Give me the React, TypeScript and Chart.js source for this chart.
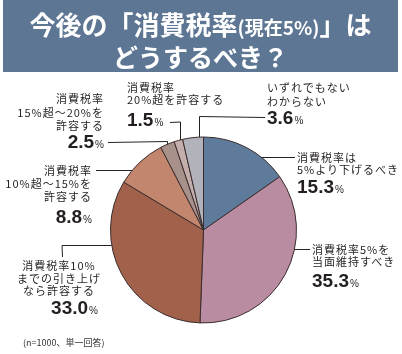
import React, { useEffect, useRef } from "react";
import { Chart, registerables } from "chart.js";

Chart.register(...registerables);

const categories = [
  "消費税率は5%より下げるべき",
  "消費税率5%を当面維持すべき",
  "消費税率10%までの引き上げなら許容する",
  "消費税率10%超～15%を許容する",
  "消費税率15%超～20%を許容する",
  "消費税率20%超を許容する",
  "いずれでもない わからない",
];
const values = [15.3, 35.3, 33.0, 8.8, 2.5, 1.5, 3.6];
const colors = ["#5f7b9b", "#b98ca2", "#a2614b", "#c2866e", "#a8918a", "#c4aeab", "#b2b3ba"];
const labelLines = [
  ["消費税率は", "5%より下げるべき"],
  ["消費税率5%を", "当面維持すべき"],
  ["消費税率10%", "までの引き上げ", "なら許容する"],
  ["消費税率", "10%超～15%を", "許容する"],
  ["消費税率", "15%超～20%を", "許容する"],
  ["消費税率", "20%超を許容する"],
  ["いずれでもない", "わからない"],
];
const titleMain1 = "今後の「消費税率";
const titleSmall = "(現在5%)";
const titleMain2 = "」は";
const titleLine2 = "どうするべき？";
const footnote = "(n=1000、単一回答)";

// layout of label blocks (positions only)
type Block = { x: number; align: "left" | "right" | "center"; ys: number[]; numY: number; numX?: number; numAlign?: "left" | "right" };
const blocks: Block[] = [
  { x: 297, align: "left", ys: [157, 169], numY: 187 },
  { x: 312, align: "left", ys: [249, 261], numY: 281 },
  { x: 59, align: "center", ys: [265, 278, 290], numY: 308, numX: 98, numAlign: "right" },
  { x: 92, align: "right", ys: [170, 183, 196], numY: 216.5 },
  { x: 104, align: "right", ys: [98, 111.5, 125], numY: 142 },
  { x: 127, align: "left", ys: [87, 99], numY: 120 },
  { x: 267, align: "left", ys: [87, 100.5], numY: 117.5 },
];

// leader lines: fraction within slice, then path segments
type Seg = { h?: number; v?: number };
const leaders: { frac: number; segs: Seg[] }[] = [
  { frac: 0.7, segs: [{ h: 295 }] },
  { frac: 0.367, segs: [{ h: 310 }] },
  { frac: 0.661, segs: [{ h: 62 }, { v: 257 }] },
  { frac: 0.28, segs: [{ h: 96 }] },
  { frac: 0.46, segs: [{ v: 141.5 }, { h: 108 }] },
  { frac: 0.68, segs: [{ v: 122 }, { h: 170 }] },
  { frac: 0.8, segs: [{ v: 116.5 }, { h: 265 }] },
];

const leaderPlugin = {
  id: "leaders",
  afterDatasetsDraw(chart: any) {
    const meta = chart.getDatasetMeta(0);
    const ctx = chart.ctx;
    ctx.save();
    ctx.strokeStyle = "#222";
    ctx.lineWidth = 1;
    meta.data.forEach((arc: any, i: number) => {
      const L = leaders[i];
      if (!L) return;
      const a = arc.startAngle + L.frac * (arc.endAngle - arc.startAngle);
      let px = arc.x + Math.cos(a) * arc.outerRadius;
      let py = arc.y + Math.sin(a) * arc.outerRadius;
      ctx.beginPath();
      L.segs.forEach((s, k) => {
        if (s.h !== undefined) {
          py = Math.round(py) + 0.5;
          if (k === 0) ctx.moveTo(px, py);
          px = s.h;
        } else if (s.v !== undefined) {
          px = Math.round(px) + 0.5;
          if (k === 0) ctx.moveTo(px, py);
          py = s.v;
        }
        ctx.lineTo(px, py);
      });
      ctx.stroke();
    });
    ctx.restore();
  },
};

const labelFont = '"Noto Sans CJK JP", "Noto Sans", sans-serif';
const numFont = '"Liberation Sans", Arial, sans-serif';

export default function App() {
  const ref = useRef<HTMLCanvasElement>(null);
  useEffect(() => {
    if (!ref.current) return;
    const chart = new Chart(ref.current, {
      type: "pie",
      data: {
        labels: categories,
        datasets: [
          {
            data: values,
            backgroundColor: colors,
            borderColor: "#3a2c2c",
            borderWidth: 1,
          },
        ],
      },
      options: {
        animation: false,
        responsive: false,
        maintainAspectRatio: false,
        layout: { padding: { left: 110, right: 105, top: 136, bottom: 30 } },
        plugins: { legend: { display: false }, tooltip: { enabled: false } },
      },
      plugins: [leaderPlugin],
    });
    return () => chart.destroy();
  }, []);

  const textColor = "#231f20";

  return (
    <div style={{ position: "absolute", left: 0, top: 0, width: 402, height: 354, background: "#fff", overflow: "hidden" }}>
      <canvas ref={ref} width={402} height={354} style={{ position: "absolute", left: 0, top: 0, width: 402, height: 354 }} />
      <div style={{ position: "absolute", left: 3, top: 0, width: 395, height: 72, background: "#5d7694", color: "#fff", fontFamily: labelFont, fontWeight: 700 }}>
        <div style={{ position: "absolute", left: 0, width: 395, top: 8, lineHeight: "32px", textAlign: "center", fontSize: 26, whiteSpace: "nowrap" }}>
          {titleMain1}
          <span style={{ fontSize: 19 }}>{titleSmall}</span>
          {titleMain2}
        </div>
        <div style={{ position: "absolute", left: 0, width: 395, top: 40, lineHeight: "32px", textAlign: "center", fontSize: 25, whiteSpace: "nowrap" }}>
          {titleLine2}
        </div>
      </div>
      {blocks.map((b, i) => {
        const lines = labelLines[i];
        const pos = (align: string, x: number): React.CSSProperties =>
          align === "left"
            ? { left: x, textAlign: "left" }
            : align === "right"
            ? { right: 402 - x, textAlign: "right" }
            : { left: x - 60, width: 120, textAlign: "center" };
        const nAlign = b.numAlign || (b.align === "center" ? "right" : b.align);
        const nX = b.numX !== undefined ? b.numX : b.x;
        return (
          <React.Fragment key={i}>
            {lines.map((t, k) => (
              <div
                key={k}
                style={{
                  position: "absolute",
                  top: b.ys[k] - 7,
                  lineHeight: "14px",
                  fontSize: 11,
                  letterSpacing: 1,
                  fontFamily: labelFont,
                  color: textColor,
                  whiteSpace: "nowrap",
                  ...pos(b.align, b.x),
                }}
              >
                {t}
              </div>
            ))}
            <div
              style={{
                position: "absolute",
                top: b.numY - 11,
                lineHeight: "22px",
                fontFamily: numFont,
                color: textColor,
                whiteSpace: "nowrap",
                ...pos(nAlign, nX),
              }}
            >
              <span style={{ fontSize: 19, fontWeight: 700, letterSpacing: 0 }}>{values[i].toFixed(1)}</span>
              <span style={{ fontSize: 10, marginLeft: 1 }}>%</span>
            </div>
          </React.Fragment>
        );
      })}
      <div style={{ position: "absolute", left: 23, top: 337, fontSize: 9, lineHeight: "12px", fontFamily: labelFont, color: "#333", whiteSpace: "nowrap" }}>
        {footnote}
      </div>
    </div>
  );
}
